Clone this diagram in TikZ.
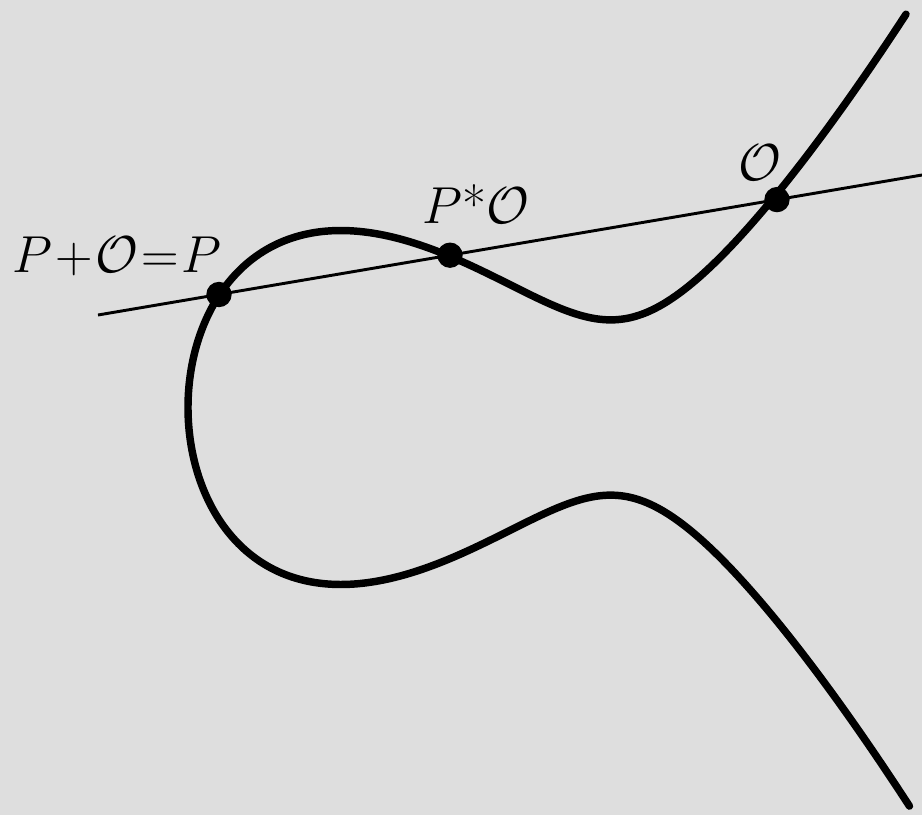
\documentclass[tikz,border=0pt]{standalone}
\usepackage{graphicx}
\usepackage{amsmath}
\definecolor{bgc}{RGB}{222,222,222}
\newcommand{\biglbl}[1]{\scalebox{1.567}{\fontsize{24.88}{30}\selectfont #1}}
\begin{document}
\begin{tikzpicture}[x=0.75pt,y=-0.75pt,
  curve/.style={line width=5.6pt,line cap=round,line join=round},
  secant/.style={line width=2.2pt},
  dot/.style={circle,fill=black,inner sep=0pt,minimum size=19pt},
  lbl/.style={anchor=base west,inner sep=0pt}]
\fill[bgc] (0,0) rectangle (922,815);
\useasboundingbox (0,0) rectangle (922,815);
\draw[curve] plot[domain=-26.86:26.8,samples=400,variable=\t,smooth]
  ({188+\t*\t},{407.5-\t*sqrt((0.04906*\t*\t)^2-2.0772*\t*\t+466.2)});
\coordinate (L1) at (98,315);
\coordinate (L2) at (922,175);
\draw[secant] (L1) -- (L2);
\node[dot] (P) at (219,294.5) {};
\node[dot] (PO) at (450,255.2) {};
\node[dot] (O) at (777,199.6) {};
\node[lbl] (tP) at (12,272) {\biglbl{$\medmuskip=1mu\thickmuskip=1mu P+\mathcal{O}=P$}};
\node[lbl] (tPO) at (422,223.5) {\biglbl{$P$*$\mathcal{O}$}};
\node[lbl] (tO) at (738,180) {\biglbl{$\mathcal{O}$}};
\end{tikzpicture}
\end{document}
